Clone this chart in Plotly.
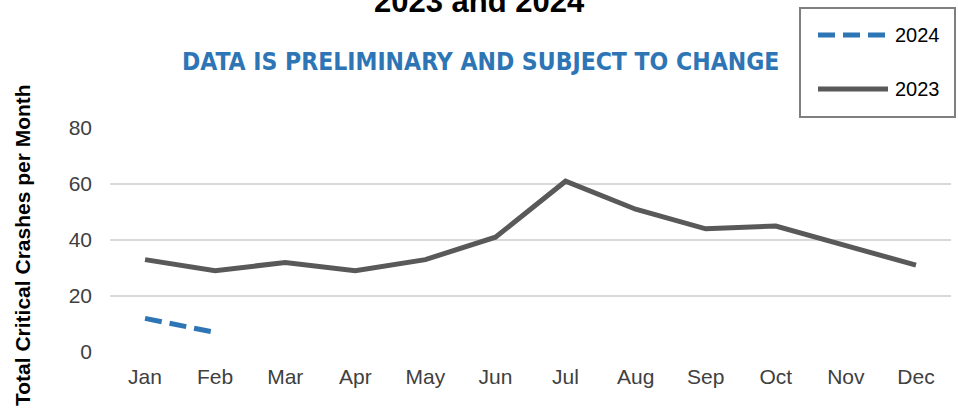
import plotly.graph_objects as go

months = ["Jan", "Feb", "Mar", "Apr", "May", "Jun", "Jul", "Aug", "Sep", "Oct", "Nov", "Dec"]
crashes_2023 = [33, 29, 32, 29, 33, 41, 61, 51, 44, 45, 38, 31]
crashes_2024 = [12, 7]
y_ticks = [0, 20, 40, 60, 80]

W, H = 958, 409
L, R, T, B = 110, 7, 128, 57
PW, PH = W - L - R, H - T - B

def px_x(x):
    return (x - L) / PW

def px_y(y):
    return (H - B - y) / PH

C23 = "#595959"
C24 = "#2E75B6"

fig = go.Figure()
fig.add_trace(go.Scatter(x=months, y=crashes_2023, mode="lines", name="2023",
                         line=dict(color=C23, width=5), showlegend=False))
fig.add_trace(go.Scatter(x=months[:len(crashes_2024)], y=crashes_2024, mode="lines", name="2024",
                         line=dict(color=C24, width=5, dash="17px,8px"), showlegend=False))

fig.update_layout(
    width=W, height=H,
    margin=dict(l=L, r=R, t=T, b=B, autoexpand=False),
    paper_bgcolor="white", plot_bgcolor="white",
    font=dict(family="Liberation Sans, Arial, sans-serif", size=21, color="#404040"),
    xaxis=dict(type="category", categoryorder="array", categoryarray=months,
               range=[-0.5, len(months) - 0.5], showgrid=False, zeroline=False,
               showline=False, ticks="", ticklabelstandoff=10, automargin=False,
               tickfont=dict(size=21, color="#404040")),
    yaxis=dict(range=[0, 80], tickvals=y_ticks, showgrid=True, gridcolor="#d9d9d9",
               gridwidth=1.6, zeroline=False, showline=False, ticks="",
               ticklabelstandoff=17, automargin=False,
               tickfont=dict(size=21, color="#404040")),
)

# title (top clipped as in the reference)
fig.add_annotation(text="<b>2023 and 2024</b>", xref="paper", yref="paper",
                   x=px_x(479), y=px_y(14), xanchor="center", yanchor="bottom", yshift=-7,
                   showarrow=False,
                   font=dict(size=31, color="#000000", family="Liberation Sans, Arial, sans-serif"))

# y-axis title
fig.add_annotation(text="<b>Total Critical Crashes per Month</b>", xref="paper", yref="paper",
                   x=px_x(22), y=px_y(245), xanchor="center", yanchor="middle",
                   textangle=-90, showarrow=False,
                   font=dict(size=21, color="#000000", family="Liberation Sans, Arial, sans-serif"))

fig.add_annotation(text="<b>DATA IS PRELIMINARY AND SUBJECT TO CHANGE</b>",
                   xref="paper", yref="paper", x=px_x(480), y=px_y(62),
                   xanchor="center", yanchor="middle", showarrow=False,
                   font=dict(family="DejaVu Sans Condensed, Liberation Sans Narrow, sans-serif",
                             size=24.5, color=C24))

# legend box
fig.add_shape(type="rect", xref="paper", yref="paper",
              x0=px_x(800), x1=px_x(955), y0=px_y(117), y1=px_y(8),
              line=dict(color="#7f7f7f", width=2), fillcolor="white")
legend_items = [("2024", C24, "17px,8px", 35), ("2023", C23, "solid", 89)]
for name, col, dash, ypx in legend_items:
    fig.add_shape(type="line", xref="paper", yref="paper",
                  x0=px_x(818), x1=px_x(888), y0=px_y(ypx), y1=px_y(ypx),
                  line=dict(color=col, width=5, dash=dash))
    fig.add_annotation(text=name, xref="paper", yref="paper", x=px_x(893), y=px_y(ypx),
                       xanchor="left", yanchor="middle", showarrow=False,
                       font=dict(size=20, color="#000000"))

fig.write_html("out.html", config={"displayModeBar": False},
               post_script="document.body.style.margin='0px';")
